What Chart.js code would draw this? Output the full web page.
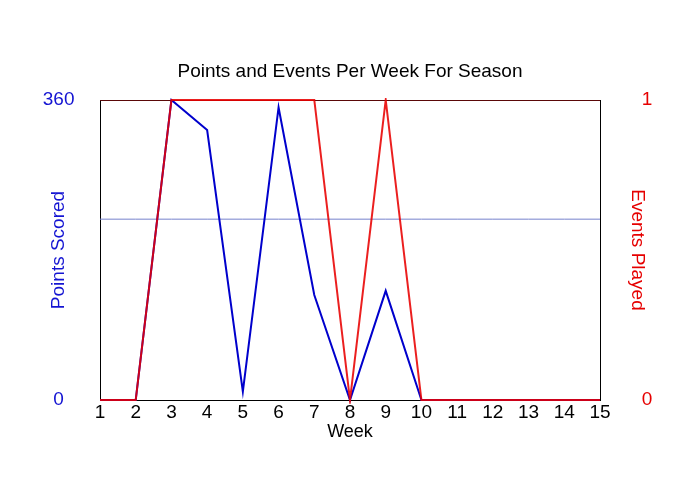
<!DOCTYPE html>
<html>
<head>
<meta charset="utf-8">
<script src="https://cdn.jsdelivr.net/npm/chart.js@4.4.0/dist/chart.umd.min.js"></script>
<style>
  html, body { margin: 0; padding: 0; background: #ffffff; }
  #wrap { width: 700px; height: 500px; }
</style>
</head>
<body>
<div id="wrap"><canvas id="c" width="700" height="500"></canvas></div>
<script>
const weeks = ['1','2','3','4','5','6','7','8','9','10','11','12','13','14','15'];
const pointsScored = [0, 0, 360, 324, 10, 351, 126, 0, 131, 0, 0, 0, 0, 0, 0];
const eventsPlayed = [0, 0, 1, 1, 1, 1, 1, 0, 1, 0, 0, 0, 0, 0, 0];
const averageLine = [217, 217, 217, 217, 217, 217, 217, 217, 217, 217, 217, 217, 217, 217, 217];
const leftTicks = [0, 360];
const rightTicks = [0, 1];

const FONT = "'Liberation Sans', Arial, sans-serif";
const BLUE = '#1414d2';
const RED = '#e60000';

const topBorder = {
  id: 'topBorder',
  beforeDatasetsDraw(chart) {
    const {ctx, chartArea} = chart;
    ctx.save();
    ctx.strokeStyle = '#5a0808';
    ctx.lineWidth = 1;
    ctx.beginPath();
    ctx.moveTo(chartArea.left, chartArea.top + 0.5);
    ctx.lineTo(chartArea.right, chartArea.top + 0.5);
    ctx.stroke();
    ctx.restore();
  }
};

new Chart(document.getElementById('c'), {
  type: 'line',
  data: {
    labels: weeks,
    datasets: [
      {
        label: 'Events Played',
        data: eventsPlayed,
        yAxisID: 'y1',
        borderColor: 'rgba(232,0,0,0.88)',
        borderWidth: 2,
        pointRadius: 0,
        tension: 0,
        clip: { left: 4, right: 4, top: 2, bottom: 4 },
        order: 0
      },
      {
        label: 'Points Scored',
        data: pointsScored,
        yAxisID: 'y',
        borderColor: '#0000cc',
        borderWidth: 2,
        pointRadius: 0,
        tension: 0,
        clip: { left: 4, right: 4, top: 2, bottom: 4 },
        order: 1
      },
      {
        label: 'Average',
        data: averageLine,
        yAxisID: 'y',
        borderColor: '#7682cc',
        borderWidth: 1,
        pointRadius: 0,
        tension: 0,
        order: 2
      }
    ]
  },
  options: {
    responsive: false,
    animation: false,
    devicePixelRatio: 1,
    layout: { padding: { top: 0, left: 0, right: 0, bottom: 50 } },
    plugins: {
      legend: { display: false },
      tooltip: { enabled: false },
      title: {
        display: true,
        text: 'Points and Events Per Week For Season',
        color: '#000000',
        font: { family: FONT, size: 19, weight: 'normal' },
        padding: { top: 60.6, bottom: 16.6 }
      }
    },
    scales: {
      x: {
        type: 'category',
        offset: false,
        grid: { display: false, drawTicks: false },
        border: { display: true, color: '#000000', width: 1 },
        ticks: {
          color: '#000000',
          font: { family: FONT, size: 19 },
          padding: 1,
          maxRotation: 0,
          autoSkip: false
        },
        title: {
          display: true,
          text: 'Week',
          color: '#000000',
          font: { family: FONT, size: 18 },
          padding: { top: 0, bottom: 7.5 }
        },
        afterFit(scale) { scale.height = 50; }
      },
      y: {
        position: 'left',
        min: 0,
        max: 360,
        grid: { display: false, drawTicks: false },
        border: { display: true, color: '#000000', width: 1 },
        afterBuildTicks(scale) { scale.ticks = leftTicks.map(v => ({ value: v })); },
        ticks: {
          color: BLUE,
          font: { family: FONT, size: 19 },
          padding: 25.5,
          crossAlign: 'center'
        },
        title: {
          display: true,
          text: 'Points Scored',
          color: BLUE,
          font: { family: FONT, size: 19 },
          padding: { top: 47.6, bottom: 0 }
        },
        afterFit(scale) { scale.width = 100; }
      },
      y1: {
        position: 'right',
        min: 0,
        max: 1,
        grid: { display: false, drawTicks: false },
        border: { display: true, color: '#000000', width: 1 },
        afterBuildTicks(scale) { scale.ticks = rightTicks.map(v => ({ value: v })); },
        ticks: {
          color: RED,
          font: { family: FONT, size: 19 },
          padding: 41.7,
          crossAlign: 'center'
        },
        title: {
          display: true,
          text: 'Events Played',
          color: RED,
          font: { family: FONT, size: 19 },
          padding: { top: 50.9, bottom: 0 }
        },
        afterFit(scale) { scale.width = 100; }
      }
    }
  },
  plugins: [topBorder]
});
</script>
</body>
</html>
